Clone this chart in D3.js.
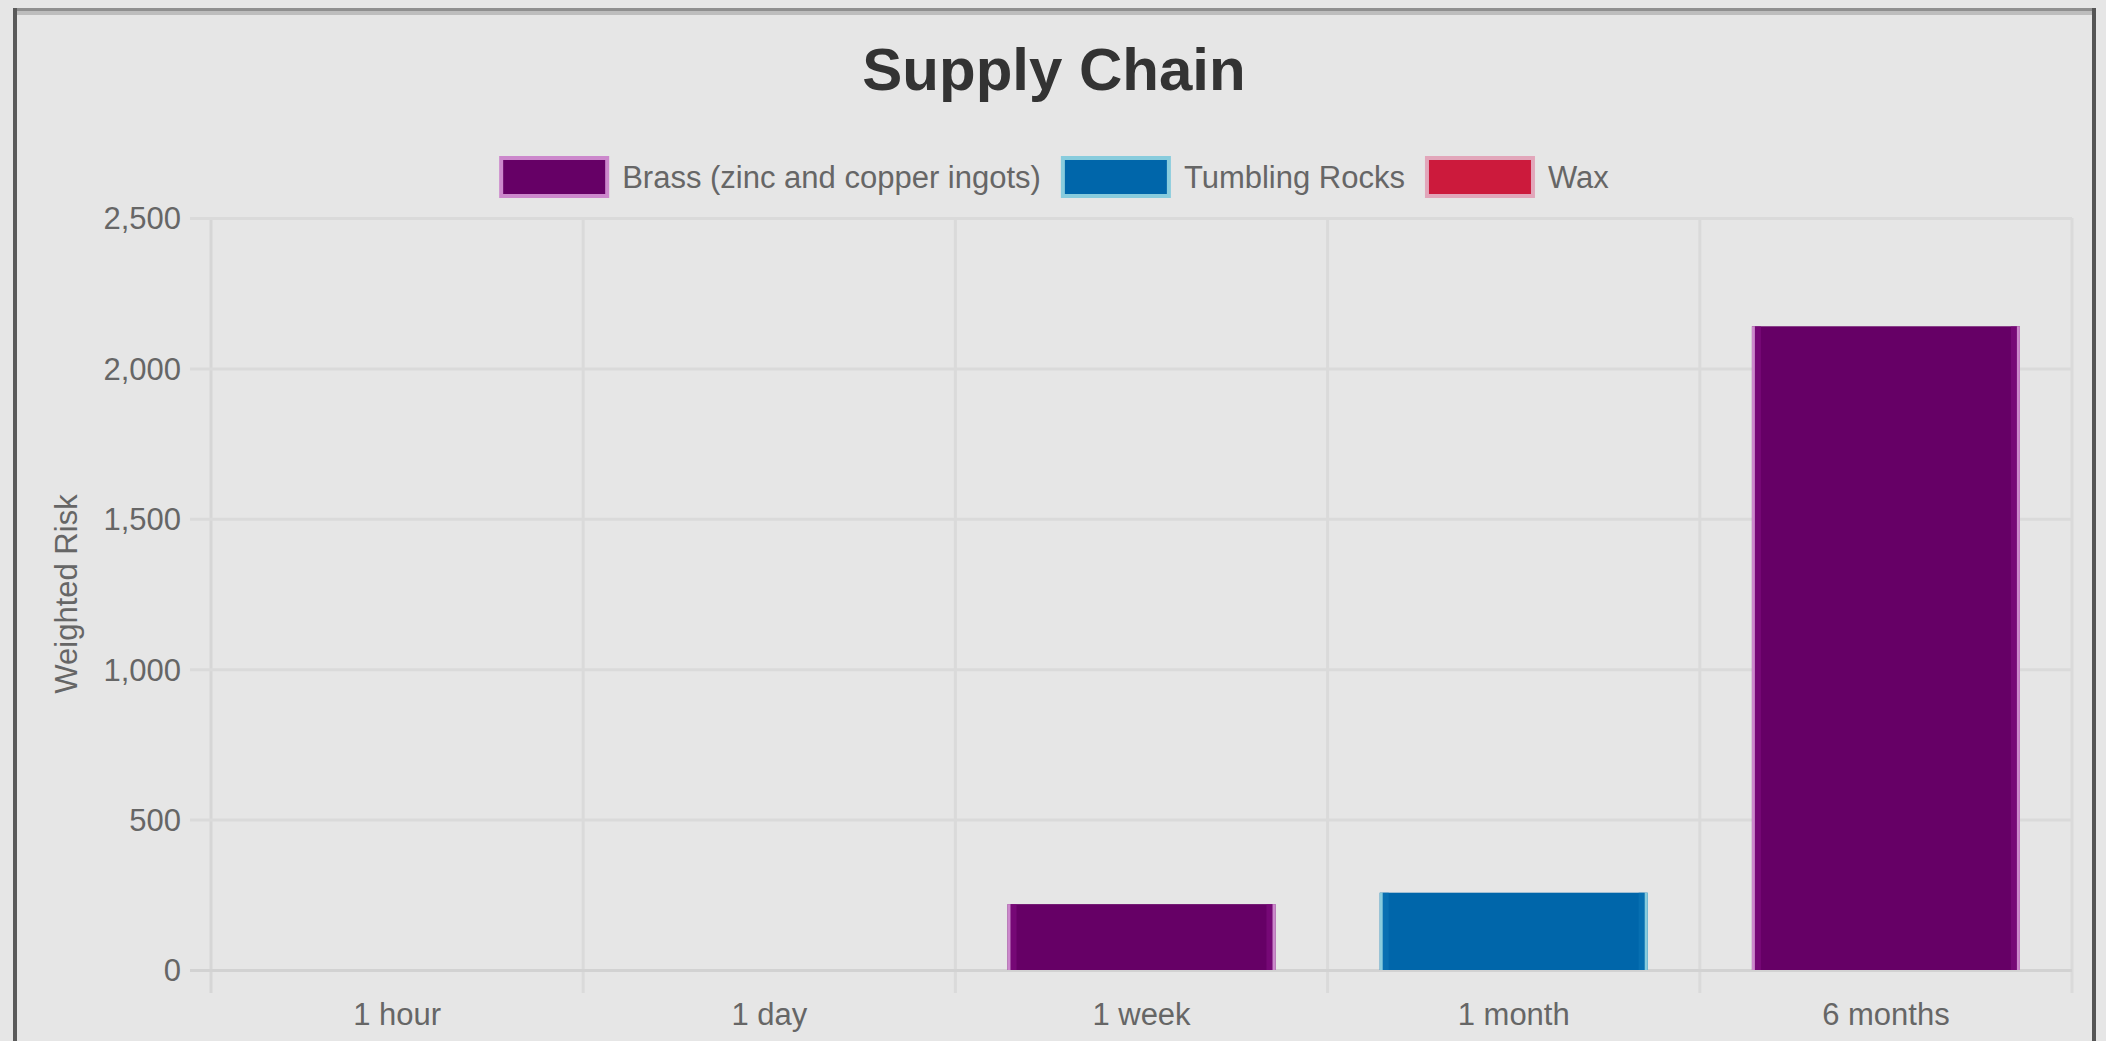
<!DOCTYPE html>
<html>
<head>
<meta charset="utf-8">
<script src="https://cdn.jsdelivr.net/npm/d3@7"></script>
<style>
  html, body { margin: 0; padding: 0; background: #e6e6e6; }
  svg { display: block; }
  text { font-family: "Liberation Sans", Arial, sans-serif; }
</style>
</head>
<body>
<svg id="chart" width="2106" height="1041"></svg>
<script>
// ---- data ----
const categories = ["1 hour", "1 day", "1 week", "1 month", "6 months"];
const seriesNames = ["Brass (zinc and copper ingots)", "Tumbling Rocks", "Wax"];
const brassValues = [0, 0, 219, 0, 2140];
const tumblingValues = [0, 0, 0, 257, 0];
const waxValues = [0, 0, 0, 0, 0];
const yTickValues = [0, 500, 1000, 1500, 2000, 2500];
const chartTitle = "Supply Chain";
const yAxisTitle = "Weighted Risk";

// ---- styles ----
const fills = ["#660066", "#0066aa", "#cc1a3c"];
const borders = ["#cc88cc", "#88ccdd", "#e2a6ba"];
const inner = ["#7e0c7e", "#0a74b4", "#d62848"];

const W = 2106, H = 1041;
const plotLeft = 211, plotRight = 2072, plotTop = 218, plotBottom = 970;

const svg = d3.select("#chart");
svg.append("rect").attr("x", 0).attr("y", 0).attr("width", W).attr("height", H).attr("fill", "#e6e6e6");

// frame
svg.append("rect").attr("x", 13).attr("y", 8).attr("width", 2096 - 13).attr("height", 3).attr("fill", "#8f8f8f");
svg.append("rect").attr("x", 17).attr("y", 11).attr("width", 2092 - 17).attr("height", 4).attr("fill", "#bdbdbd");
svg.append("rect").attr("x", 13).attr("y", 8).attr("width", 4).attr("height", H).attr("fill", "#5a5a5a");
svg.append("rect").attr("x", 2092).attr("y", 8).attr("width", 4).attr("height", H).attr("fill", "#555555");

// scales
const x = d3.scaleBand().domain(categories).range([plotLeft, plotRight]).paddingInner(0).paddingOuter(0);
const y = d3.scaleLinear().domain([0, 2500]).range([plotBottom, plotTop]);

// stacked data
const table = categories.map((c, i) => ({ cat: c, s0: brassValues[i], s1: tumblingValues[i], s2: waxValues[i] }));
const stack = d3.stack().keys(["s0", "s1", "s2"])(table);

// vertical grid lines (category boundaries)
const bounds = categories.map(c => x(c)).concat([x(categories[categories.length - 1]) + x.bandwidth()]);
svg.append("g").selectAll("line").data(bounds).join("line")
  .attr("x1", d => d).attr("x2", d => d)
  .attr("y1", plotTop).attr("y2", plotBottom + 23)
  .attr("stroke", d => d === plotLeft ? "#d6d6d6" : "#dadada").attr("stroke-width", 3);

// y axis with horizontal grid
const yAxis = d3.axisLeft(y).tickValues(yTickValues).tickFormat(d3.format(","))
  .tickSizeInner(-(plotRight - 190)).tickSizeOuter(0).tickPadding(9);
const yg = svg.append("g").attr("transform", "translate(190,0)").call(yAxis);
yg.select(".domain").remove();
yg.selectAll(".tick line").attr("stroke", d => d === 0 ? "#d2d2d2" : "#dadada").attr("stroke-width", 3);
yg.selectAll(".tick text").attr("fill", "#666").style("font-size", "31px").attr("dy", "0.35em");

// x axis labels
const xAxis = d3.axisBottom(x).tickSize(0).tickPadding(33);
const xg = svg.append("g").attr("transform", `translate(0,${plotBottom})`).call(xAxis);
xg.select(".domain").remove();
xg.selectAll(".tick text").attr("fill", "#666").style("font-size", "31px");

// bars
const barW = x.bandwidth() * 0.72;
stack.forEach((layer, si) => {
  const g = svg.append("g");
  layer.forEach((d, i) => {
    const v = d[1] - d[0];
    if (v <= 0) return;
    const cx = x(categories[i]) + x.bandwidth() / 2;
    const x0 = cx - barW / 2, y0 = y(d[1]), h = y(d[0]) - y(d[1]);
    g.append("rect").attr("x", x0).attr("y", y0).attr("width", barW).attr("height", h).attr("fill", fills[si]);
    g.append("rect").attr("x", x0 + 3).attr("y", y0).attr("width", 6).attr("height", h).attr("fill", inner[si]).attr("opacity", 0.7);
    g.append("rect").attr("x", x0 + barW - 9).attr("y", y0).attr("width", 6).attr("height", h).attr("fill", inner[si]).attr("opacity", 0.7);
    g.append("rect").attr("x", x0).attr("y", y0).attr("width", 3).attr("height", h).attr("fill", borders[si]);
    g.append("rect").attr("x", x0 + barW - 3).attr("y", y0).attr("width", 3).attr("height", h).attr("fill", borders[si]);
  });
});

// title
svg.append("text").attr("x", 1054).attr("y", 90).attr("text-anchor", "middle")
  .attr("fill", "#333").style("font-size", "60px").style("font-weight", "bold").text(chartTitle);

// y axis title
svg.append("text").attr("transform", "translate(66,594) rotate(-90)")
  .attr("text-anchor", "middle").attr("dominant-baseline", "central")
  .attr("fill", "#666").style("font-size", "31px").text(yAxisTitle);

// legend
const legend = svg.append("g");
const boxW = 110, boxH = 42, gapText = 13, gapItem = 20;
const items = seriesNames.map((name, i) => {
  const g = legend.append("g");
  g.append("rect").attr("x", 2).attr("y", 158).attr("width", boxW - 4).attr("height", boxH - 4)
    .attr("fill", fills[i]).attr("stroke", borders[i]).attr("stroke-width", 4);
  const t = g.append("text").attr("x", boxW + gapText).attr("y", 188)
    .attr("fill", "#666").style("font-size", "31px").text(name);
  return { g, w: boxW + gapText + t.node().getComputedTextLength() };
});
const total = d3.sum(items, d => d.w) + gapItem * (items.length - 1);
let cur = 1054 - total / 2;
items.forEach(it => { it.g.attr("transform", `translate(${cur},0)`); cur += it.w + gapItem; });
</script>
</body>
</html>
